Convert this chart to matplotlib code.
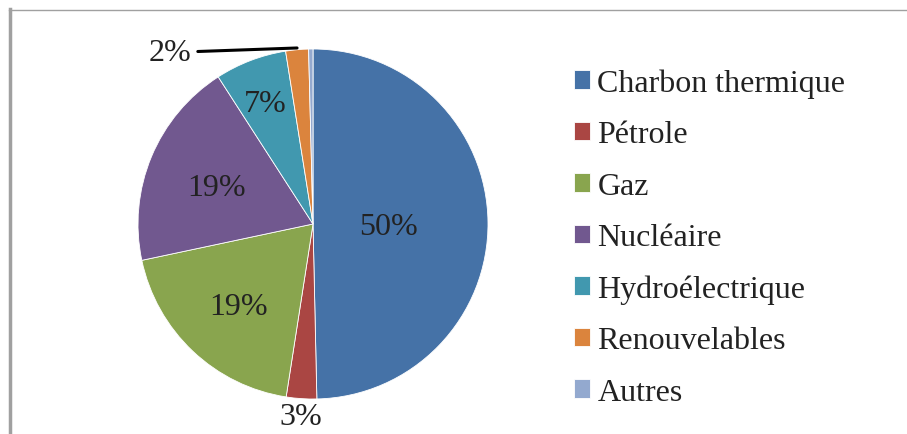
import numpy as np
import matplotlib.pyplot as plt
from matplotlib.lines import Line2D

plt.rcParams['font.family'] = ['Liberation Serif', 'DejaVu Serif']

# Parts de la production d'electricite (%)
categories = ["Charbon thermique", "Pétrole", "Gaz", "Nucléaire",
              "Hydroélectrique", "Renouvelables", "Autres"]
values = [49.6, 2.8, 19.2, 19.2, 6.6, 2.1, 0.4]
colors = ["#4572A7", "#AA4643", "#89A54E", "#71588F", "#4198AF", "#DB843D", "#93A9CF"]

# distance des etiquettes au centre (en rayons), None = pas d'etiquette
label_dist = [0.43, 1.08, 0.62, 0.6, 0.76, None, None]

W, H = 907, 435
fig = plt.figure(figsize=(W / 100, H / 100), dpi=100)

cx, cy, r = 313, 225, 175
ax = fig.add_axes([(cx - r) / W, (H - cy - r) / H, 2 * r / W, 2 * r / H])
wedges, _ = ax.pie(values, colors=colors, startangle=90, counterclock=False,
                   radius=1, wedgeprops=dict(edgecolor="white", linewidth=0.6))
ax.set_xlim(-1, 1)
ax.set_ylim(-1, 1)
ax.set_aspect("equal")

txt_color = "#222222"
fs = 23
for w, v, d in zip(wedges, values, label_dist):
    if d is None:
        continue
    ang = np.deg2rad((w.theta1 + w.theta2) / 2)
    ax.text(d * np.cos(ang), d * np.sin(ang), f"{round(v):d}%", ha="center",
            va="center_baseline", fontsize=fs, color=txt_color, clip_on=False)

# etiquette "2%" avec trait de rappel
w = wedges[5]
ang = np.deg2rad((w.theta1 + w.theta2) / 2)
ax.annotate(f"{round(values[5]):d}%", xy=(1.0 * np.cos(ang), 1.0 * np.sin(ang) + 0.01),
            xytext=(-0.82, 1.0), ha="center", va="center_baseline", fontsize=fs,
            color=txt_color, annotation_clip=False,
            arrowprops=dict(arrowstyle="-", color="black", lw=2.2,
                            shrinkA=3, shrinkB=0))

leg = ax.legend(wedges, categories, loc="center left", bbox_to_anchor=(1.245, 0.461),
                frameon=False, fontsize=23, handlelength=0.52, handleheight=0.52,
                handletextpad=0.22, labelspacing=0.70, borderaxespad=0, borderpad=0)
for t in leg.get_texts():
    t.set_color(txt_color)

# cadre partiel (gauche et haut)
fig.add_artist(Line2D([10 / W, 10 / W], [0, 1 - 10 / H], color="#a0a0a0", lw=2.5))
fig.add_artist(Line2D([9 / W, 1], [1 - 11 / H, 1 - 11 / H], color="#a0a0a0", lw=1))

fig.savefig("out.png", dpi=100)
